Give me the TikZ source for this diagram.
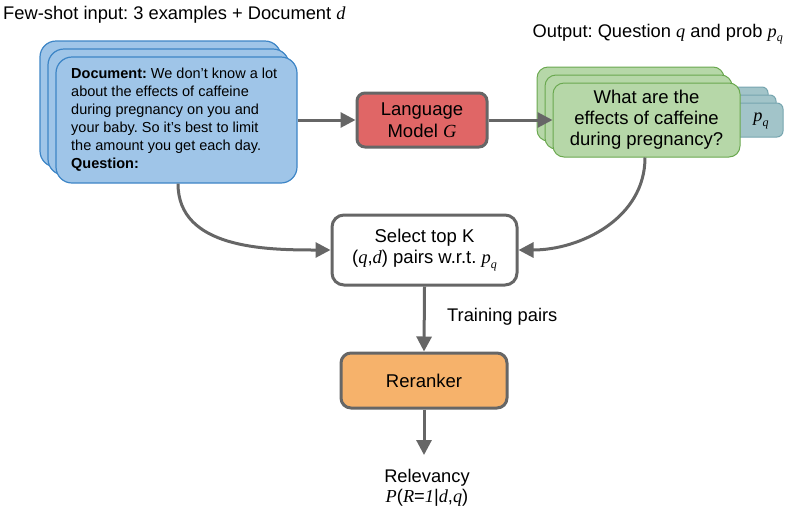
\documentclass[tikz,border=0pt]{standalone}
\usepackage{fontspec}
\setmainfont{Liberation Sans}
\newfontfamily\tms{Liberation Serif}
\usetikzlibrary{arrows.meta}
\definecolor{blueF}{HTML}{9FC5E8}
\definecolor{blueD}{HTML}{3D85C6}
\definecolor{greenF}{HTML}{B6D7A8}
\definecolor{greenD}{HTML}{6AA84F}
\definecolor{tealF}{HTML}{A2C4C9}
\definecolor{tealD}{HTML}{76A5AF}
\definecolor{redF}{HTML}{E06666}
\definecolor{orangeF}{HTML}{F6B26B}
\definecolor{arr}{HTML}{666666}
\frenchspacing
\newcommand{\mi}[1]{{\tms\itshape #1}}
\newcommand{\pq}{\mi{p}\raisebox{-0.45ex}{\fontsize{12}{12}\selectfont\mi{q}}}
\tikzset{
  bluebox/.style={draw=blueD, fill=blueF, line width=1.2pt, rounded corners=16pt, minimum width=241pt, minimum height=126pt},
  greenbox/.style={draw=greenD, fill=greenF, line width=1pt, rounded corners=11pt, minimum width=187pt, minimum height=74pt},
  tealbox/.style={draw=tealD, fill=tealF, line width=1pt, rounded corners=6pt, minimum width=62pt, minimum height=34pt},
  graybox/.style={draw=arr, line width=3pt, rounded corners=10pt, font=\fontsize{18.5}{21.5}\selectfont, align=center, inner sep=0pt},
  conn/.style={draw=arr, line width=3pt, -{Triangle[length=15pt,width=15pt]}},
  lbl/.style={font=\fontsize{18.3}{20}\selectfont, inner sep=0pt}
}
\begin{document}
\begin{tikzpicture}[x=1pt,y=-1pt]
\useasboundingbox (0,0) rectangle (799,515);
% titles
\node[lbl, anchor=west] (t1) at (3,15) {Few-shot input: 3 examples + Document \mi{d}};
\node[lbl, anchor=east] (t2) at (783,34) {Output: Question \mi{q} and prob \pq};
% blue stack
\node[bluebox] (b3) at (160.5,104) {};
\node[bluebox] (b2) at (168.5,112) {};
\node[bluebox] (b1) at (176.5,120) {};
\node[anchor=west, align=left, inner sep=0pt, font=\fontsize{14.5}{18}\selectfont] (btext) at (71,120)
 {\textbf{Document:} We don't know a lot\\about the effects of caffeine\\during pregnancy on you and\\your baby. So it's best to limit\\the amount you get each day.\\\textbf{Question:}};
% teal stack
\node[tealbox] (p3) at (737,104) {};
\node[tealbox] (p2) at (745,112) {};
\node[tealbox] (p1) at (752,120) {};
\node[lbl, anchor=center] (pql) at (761,121) {\pq};
% green stack
\node[greenbox] (g3) at (630.5,104) {};
\node[greenbox] (g2) at (638.5,112) {};
\node[greenbox, align=center, inner sep=0pt, font=\fontsize{18.5}{21}\selectfont] (g1) at (646.5,120) {What are the\\effects of caffeine\\during pregnancy?};
% LM
\node[graybox, fill=redF, rounded corners=8pt, minimum width=130pt, minimum height=54pt] (lm) at (422,120) {Language\\Model \mi{G}};
% select
\node[graybox, fill=white, rounded corners=12pt, minimum width=185pt, minimum height=70pt] (sel) at (424.5,250) {Select top K\\(\mi{q},\mi{d}) pairs w.r.t. \pq};
% reranker
\node[graybox, fill=orangeF, minimum width=166pt, minimum height=55pt] (rr) at (424,380.5) {Reranker};
% output
\coordinate (out) at (424,455);
\node[lbl, align=center, font=\fontsize{18.3}{20}\selectfont] (rel) at (427,488) {Relevancy\\{\tms\itshape P}({\tms\itshape R}={\tms\itshape 1}|{\tms\itshape d},{\tms\itshape q})};
% connectors
\draw[conn] (b1.east) -- (lm.west);
\draw[conn] (lm.east) -- (g1.west);
\draw[conn] (b1.south -| 178,0) to[out=-90,in=180] (sel.west);
\draw[conn] (g1.south -| 645,0) to[out=-90,in=0] (sel.east);
\draw[conn] (sel.south) -- (rr.north);
\node[lbl, anchor=west] (tp) at (447,317) {Training pairs};
\draw[conn] (rr.south) -- (out);
\end{tikzpicture}
\end{document}
